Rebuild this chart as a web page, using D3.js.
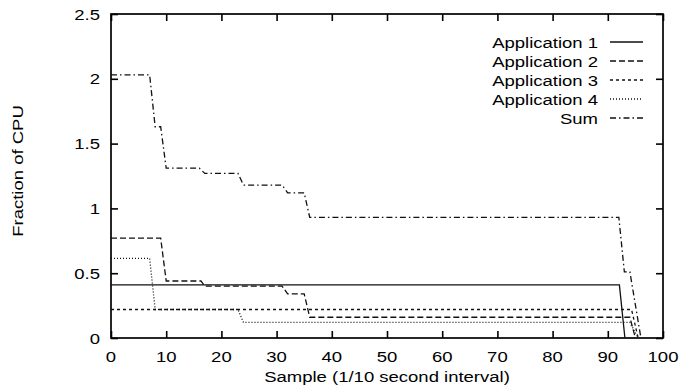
<!DOCTYPE html>
<html>
<head>
<meta charset="utf-8">
<script src="https://cdn.jsdelivr.net/npm/d3@7"></script>
<style>
  html, body { margin: 0; padding: 0; background: #fff; }
  svg { display: block; }
  text { font-family: "Liberation Sans", Arial, Helvetica, sans-serif; fill: #000; }
</style>
</head>
<body>
<svg id="chart" width="679" height="388"></svg>
<script>
// ---- data (breakpoints) ----
const seriesNames = ["Application 1", "Application 2", "Application 3", "Application 4", "Sum"];
const app1 = [[0,0.41],[92.1,0.41],[93.1,0]];
const app2 = [[0,0.77],[9,0.77],[10,0.44],[16.3,0.44],[17,0.40],[31,0.40],[32,0.34],[35,0.34],[36,0.16],[94,0.16],[95,0]];
const app3 = [[0,0.22],[94.3,0.22],[95.5,0]];
const app4 = [[0,0.615],[7,0.615],[8,0.22],[23,0.22],[24,0.12],[94,0.12],[95.5,0]];
const sum  = [[0,2.03],[7,2.03],[8,1.63],[9,1.63],[10,1.31],[16,1.31],[17,1.27],[23,1.27],[24,1.18],[31,1.18],[32,1.12],[35,1.12],[36,0.93],[92,0.93],[93,0.51],[94,0.51],[96,0]];
const xTicks = [0,10,20,30,40,50,60,70,80,90,100];
const yTicks = [0,0.5,1,1.5,2,2.5];
const yTickLabels = ["0","0.5","1","1.5","2","2.5"];
const xTitle = "Sample (1/10 second interval)";
const yTitle = "Fraction of CPU";

const seriesData = [app1, app2, app3, app4, sum];
const dashes = [null, "6,3", "3,3", "1,2", "6,3,1.5,3"];

const svg = d3.select("#chart");
const L = 111, R = 663, T = 14, B = 338;
const x = d3.scaleLinear().domain([0,100]).range([L,R]);
const y = d3.scaleLinear().domain([0,2.5]).range([B,T]);
const SY = 0.82;  // vertical squash of the scanned lettering
const FS = 18.5;

function label(g, tx, ty, str, anchor) {
  return g.append("text")
    .attr("transform", `translate(${tx},${ty}) scale(1,${SY})`)
    .attr("text-anchor", anchor)
    .style("font-size", FS + "px")
    .text(str);
}

// axes with inward ticks on all sides
const tk = 7;
svg.append("g").attr("transform", `translate(0,${B})`)
  .call(d3.axisBottom(x).tickValues(xTicks).tickSize(-tk).tickFormat(""))
  .call(g => g.select(".domain").remove());
svg.append("g").attr("transform", `translate(0,${T})`)
  .call(d3.axisTop(x).tickValues(xTicks).tickSize(-tk).tickFormat(""))
  .call(g => g.select(".domain").remove());
svg.append("g").attr("transform", `translate(${L},0)`)
  .call(d3.axisLeft(y).tickValues(yTicks).tickSize(-tk).tickFormat(""))
  .call(g => g.select(".domain").remove());
svg.append("g").attr("transform", `translate(${R},0)`)
  .call(d3.axisRight(y).tickValues(yTicks).tickSize(-tk).tickFormat(""))
  .call(g => g.select(".domain").remove());
svg.selectAll(".tick line").attr("stroke", "#000").attr("stroke-width", 1.6);

// tick labels
const lab = svg.append("g");
xTicks.forEach(v => label(lab, x(v), 362, String(v), "middle"));
yTicks.forEach((v, i) => label(lab, 100, y(v) + 5.5, yTickLabels[i], "end"));

// frame
svg.append("rect").attr("x", L).attr("y", T).attr("width", R - L).attr("height", B - T)
  .attr("fill", "none").attr("stroke", "#000").attr("stroke-width", 1.7);

// lines
const line = d3.line().x(d => x(d[0])).y(d => y(d[1]));
seriesData.forEach((s, i) => {
  svg.append("path").datum(s).attr("d", line)
    .attr("fill", "none").attr("stroke", "#111").attr("stroke-width", 1.3)
    .attr("stroke-dasharray", dashes[i]);
});

// titles
label(svg, (L + R) / 2, 382, xTitle, "middle");
svg.append("text")
  .attr("transform", `translate(23,171) rotate(-90) scale(1,${SY})`)
  .attr("text-anchor", "middle").style("font-size", FS + "px").text(yTitle);

// legend
const lg = svg.append("g");
seriesNames.forEach((n, i) => {
  const yy = 42 + i * 19;
  label(lg, 598, yy + 6, n, "end");
  lg.append("line").attr("x1", 610).attr("x2", 643).attr("y1", yy).attr("y2", yy)
    .attr("stroke", "#111").attr("stroke-width", 1.3)
    .attr("stroke-dasharray", dashes[i]);
});
</script>
</body>
</html>
